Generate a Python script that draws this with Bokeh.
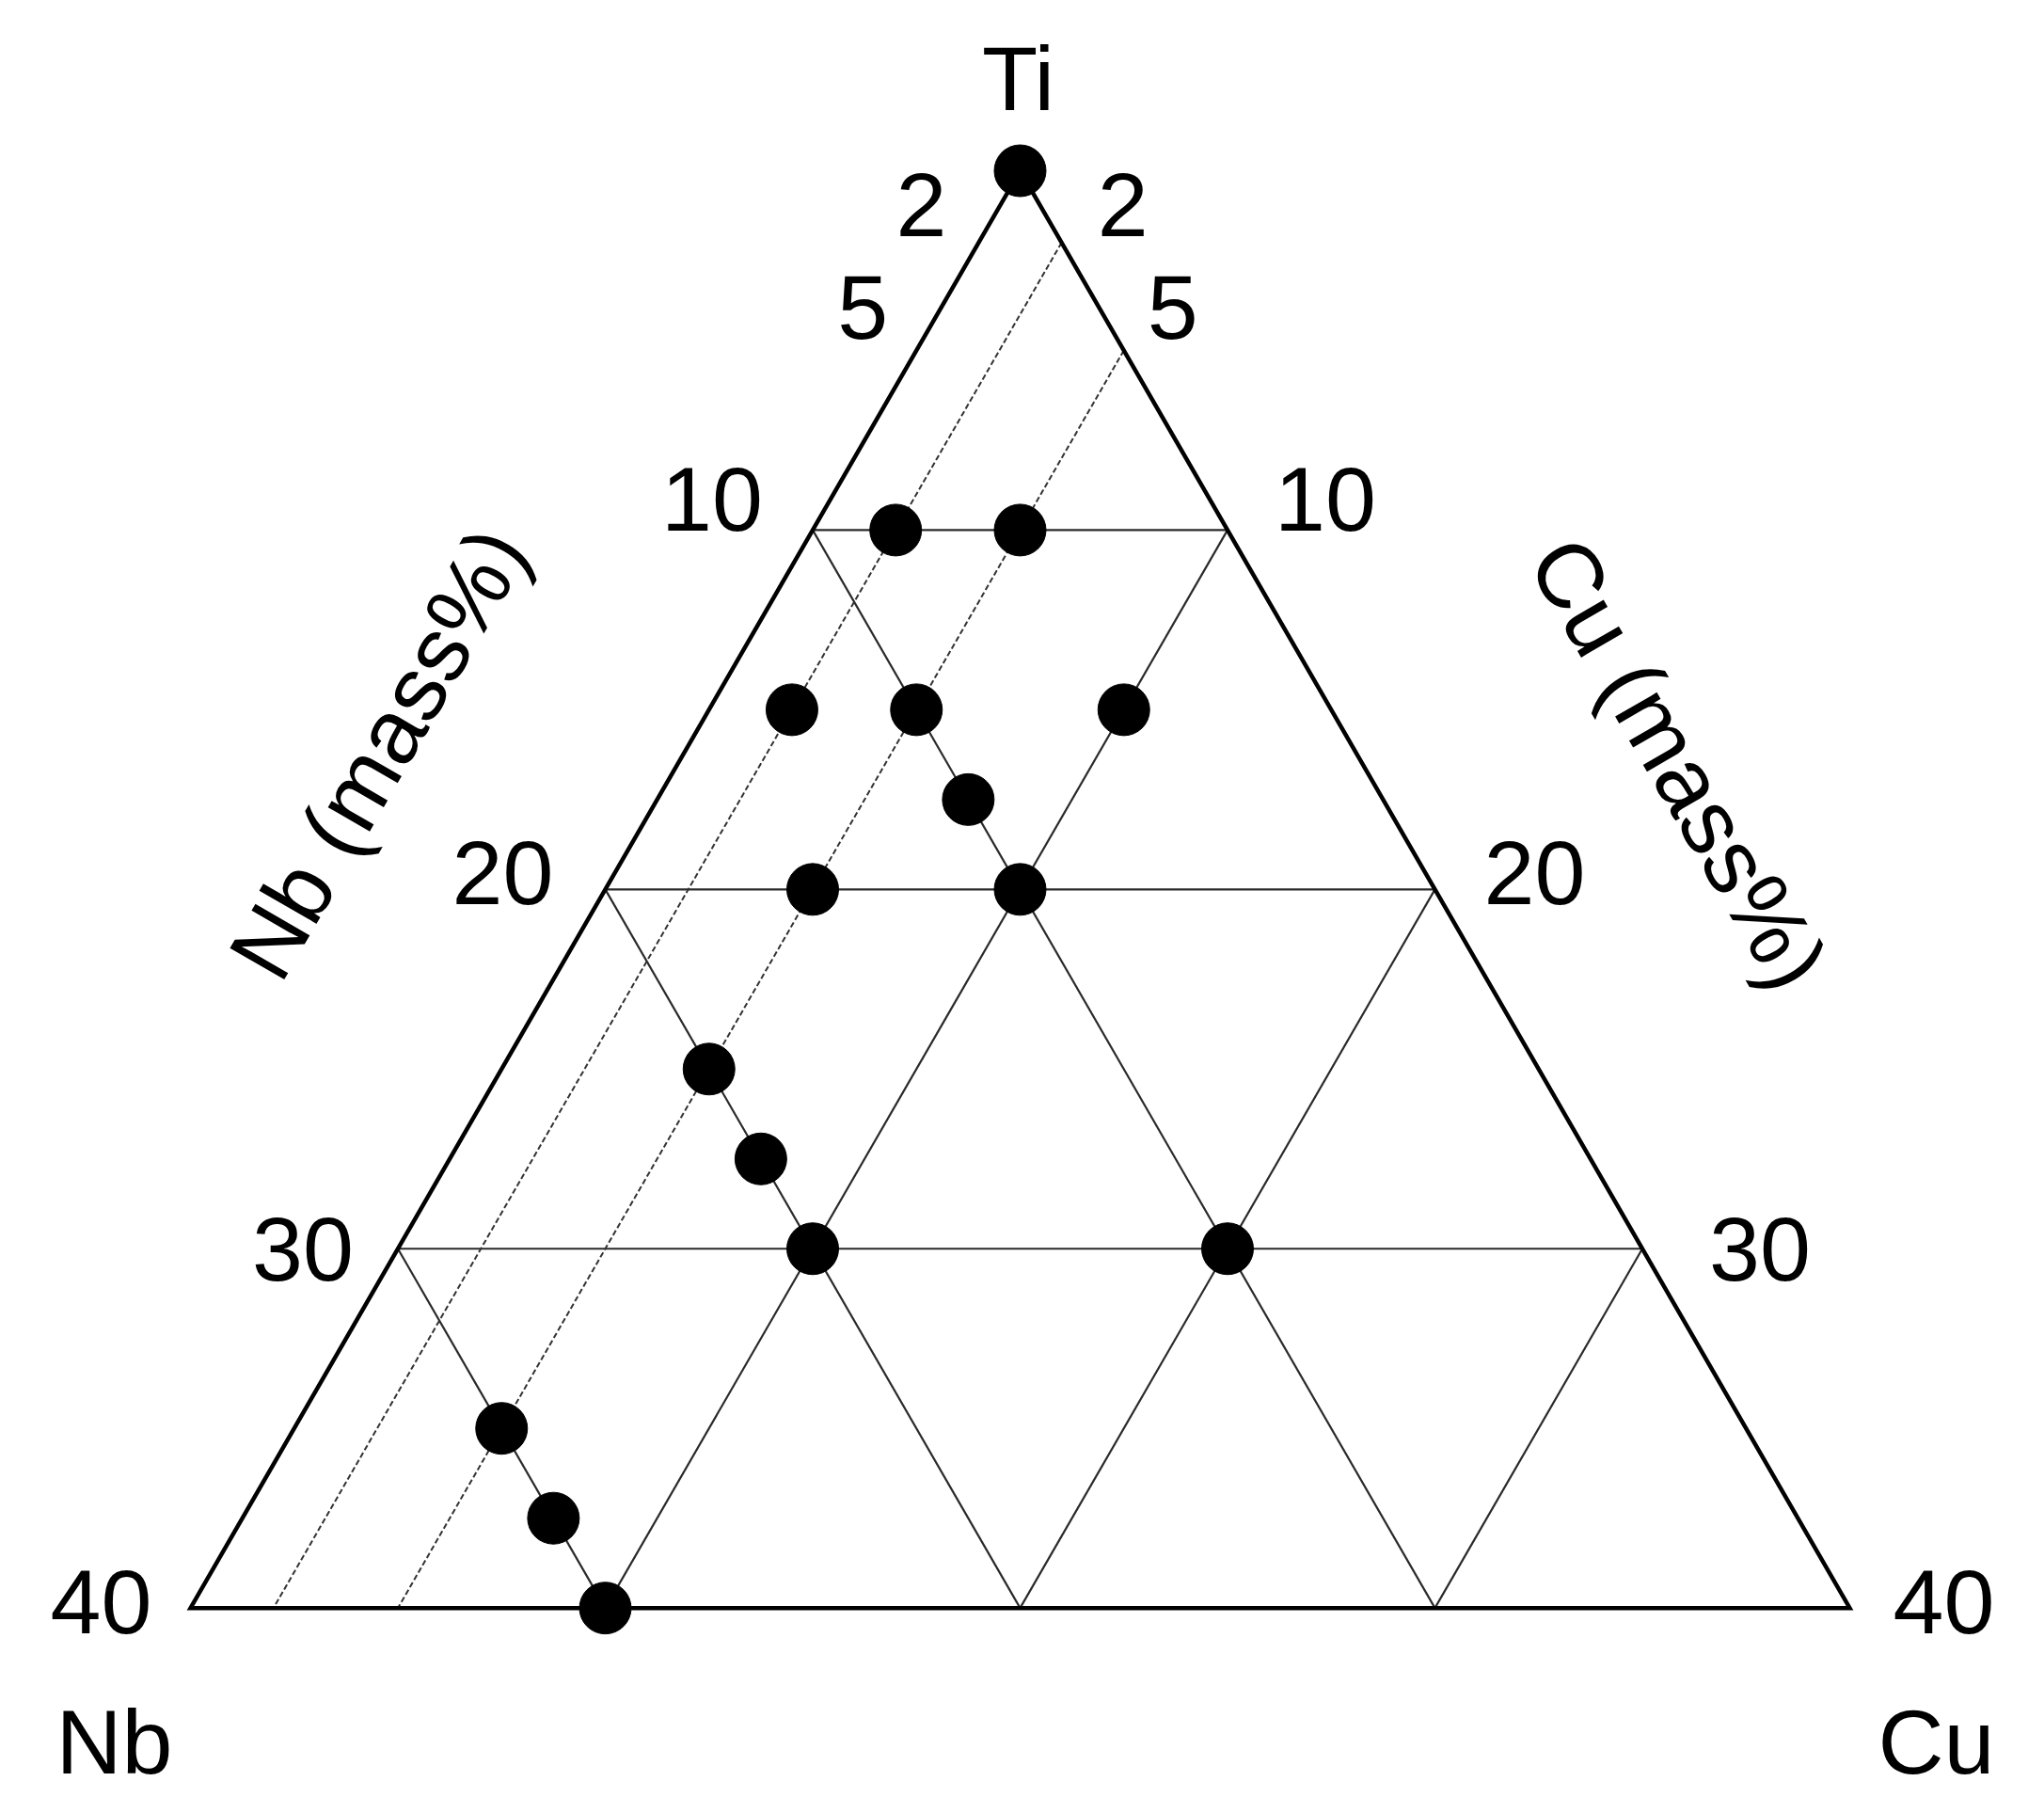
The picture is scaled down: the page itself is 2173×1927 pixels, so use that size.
import math
from bokeh.plotting import figure
from bokeh.models import Range1d
from bokeh.core.properties import value
from bokeh.embed import file_html
from bokeh.resources import INLINE

# ---------------- data (mass%) ----------------
nb_values = [0, 8, 5, 13, 10, 5, 10, 15, 10, 20, 20, 20, 10, 30, 30, 30]
cu_values = [0, 2, 5, 2, 5, 10, 7.5, 5, 10, 5, 7.5, 10, 20, 5, 7.5, 10]

axis_max = 40
grid_levels = [10, 20, 30]          # solid grid lines
dashed_cu_levels = [2, 5]           # dashed constant-Cu lines
tick_values = [2, 5, 10, 20, 30, 40]
tick_labels = ["2", "5", "10", "20", "30", "40"]

apex_label = "Ti"
left_corner_label = "Nb"
right_corner_label = "Cu"
left_axis_title = "Nb (mass%)"
right_axis_title = "Cu (mass%)"

# ---------------- layout / style ----------------
W, H = 2157, 1911
S = 44.1                     # pixels per mass% along an edge
APEX_PX = (1084, 181)        # apex position in canvas pixels
SQ3 = math.sqrt(3.0)
FONT = value("Liberation Sans")
FS = "97px"
CAP_HALF = 0

# per-label pixel offsets (dx, dy-down) from the edge point
left_tick_off = [(-61, -40), (-57, -46), (-107, -33), (-109, -18), (-101, 0), (-95, -7)]
right_tick_off = [(65, -40), (52, -46), (104, -33), (106, -18), (125, 0), (100, -7)]


def tern(nb, cu):
    return ((cu - nb) / 2.0, -(nb + cu) * SQ3 / 2.0)


def off(pt, dx, dy):
    return (pt[0] + dx / S, pt[1] - dy / S)


p = figure(width=W, height=H, output_backend="svg", toolbar_location=None,
           x_range=Range1d(-APEX_PX[0] / S, (W - APEX_PX[0]) / S),
           y_range=Range1d(-(H - APEX_PX[1]) / S, APEX_PX[1] / S),
           min_border=0)
p.axis.visible = False
p.grid.visible = False
p.outline_line_color = None
p.background_fill_color = "white"
p.border_fill_color = "white"

# solid grid lines
gx, gy = [], []
for v in grid_levels:
    a, b = tern(v, 0), tern(0, v)                       # constant Ti
    gx.append([a[0], b[0]]); gy.append([a[1], b[1]])
    a, b = tern(v, 0), tern(v, axis_max - v)            # constant Nb
    gx.append([a[0], b[0]]); gy.append([a[1], b[1]])
    a, b = tern(0, v), tern(axis_max - v, v)            # constant Cu
    gx.append([a[0], b[0]]); gy.append([a[1], b[1]])
p.multi_line(gx, gy, line_color="#2a2a2a", line_width=2.2)

# dashed lines
dx_, dy_ = [], []
for v in dashed_cu_levels:
    a, b = tern(0, v), tern(axis_max - v, v)
    dx_.append([a[0], b[0]]); dy_.append([a[1], b[1]])
p.multi_line(dx_, dy_, line_color="#333333", line_width=2, line_dash="6 3")

# outline
corners = [tern(0, 0), tern(axis_max, 0), tern(0, axis_max)]
p.patch([c[0] for c in corners], [c[1] for c in corners], fill_color=None,
        line_color="black", line_width=4.5, line_join="miter")

# points
pts = [tern(n, c) for n, c in zip(nb_values, cu_values)]
p.scatter([q[0] for q in pts], [q[1] for q in pts], size=55, marker="circle",
          fill_color="black", line_color="black")

# tick labels
tx, ty, tt = [], [], []
for v, lab, lo, ro in zip(tick_values, tick_labels, left_tick_off, right_tick_off):
    lp = off(tern(v, 0), lo[0], lo[1] + CAP_HALF)
    rp = off(tern(0, v), ro[0], ro[1] + CAP_HALF)
    tx += [lp[0], rp[0]]; ty += [lp[1], rp[1]]; tt += [lab, lab]

# corner labels
for lab, pt, o in [(apex_label, tern(0, 0), (-2, -98)),
                   (left_corner_label, tern(axis_max, 0), (-81, 142)),
                   (right_corner_label, tern(0, axis_max), (92, 142))]:
    q = off(pt, o[0], o[1] + CAP_HALF)
    tx.append(q[0]); ty.append(q[1]); tt.append(lab)

p.text(x=tx, y=ty, text=tt, text_font=FONT, text_font_size=FS, text_color="black",
       text_align="center", text_baseline="alphabetic")

# rotated axis titles (anchored at their visual centres)
nb_anchor = off(tern(20, 0), -241, -145)
cu_anchor = off(tern(0, 20), 259, -134)
p.text(x=[nb_anchor[0]], y=[nb_anchor[1]], text=[left_axis_title], angle=math.pi / 3,
       text_font=FONT, text_font_size=FS, text_color="black",
       text_align="center", text_baseline="alphabetic")
p.text(x=[cu_anchor[0]], y=[cu_anchor[1]], text=[right_axis_title], angle=-math.pi / 3,
       text_font=FONT, text_font_size=FS, text_color="black",
       text_align="center", text_baseline="alphabetic")

open("out.html", "w").write(file_html(p, INLINE))
